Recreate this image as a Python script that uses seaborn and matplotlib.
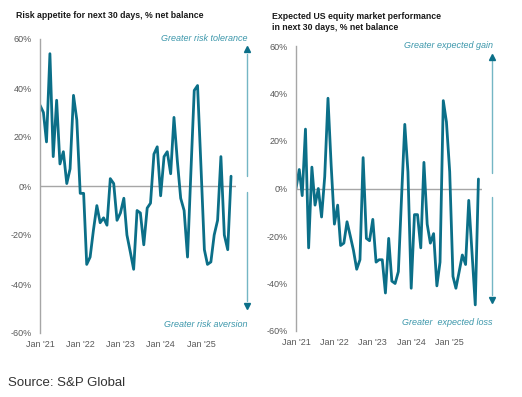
import numpy as np
import pandas as pd
import seaborn as sns
import matplotlib.pyplot as plt
import matplotlib.dates as mdates

# monthly net balance readings, Jan 2021 onwards
risk_appetite = [33, 30, 18, 54, 12, 35, 9, 14, 1, 7, 37, 27, -3, -3, -32, -29,
                 -18, -8, -15, -13, -16, 3, 1, -14, -11, -5, -20, -27, -34, -10,
                 -11, -24, -9, -7, 13, 16, -4, 12, 14, 5, 28, 10, -5, -10, -29,
                 5, 39, 41, 8, -26, -32, -31, -20, -14, 12, -20, -26, 4]
equity_outlook = [0, 8, -3, 25, -25, 9, -7, 0, -12, 5, 38, 10, -15, -7, -24, -23,
                  -14, -20, -26, -34, -30, 13, -21, -22, -13, -31, -30, -30, -44,
                  -21, -39, -40, -35, -4, 27, 7, -42, -11, -11, -25, 11, -15, -23,
                  -19, -41, -31, 37, 28, 7, -37, -42, -35, -28, -32, -5, -27, -49, 4]
months = pd.date_range("2021-01-01", periods=len(risk_appetite), freq="MS")

titles = ["Risk appetite for next 30 days, % net balance",
          "Expected US equity market performance\nin next 30 days, % net balance"]
top_notes = ["Greater risk tolerance", "Greater expected gain"]
bottom_notes = ["Greater risk aversion", "Greater  expected loss"]
y_ticks = [-60, -40, -20, 0, 20, 40, 60]

LINE = "#0b6f88"
NOTE = "#3c97ab"
ARROW = "#74b6c4"
GREY = "#595959"

sns.set_style("white")
plt.rcParams["font.family"] = ["Liberation Sans", "DejaVu Sans"]

W, H = 522, 397
fig = plt.figure(figsize=(W / 100, H / 100), dpi=100)


def px(x0, y0, x1, y1):
    return [x0 / W, 1 - y1 / H, (x1 - x0) / W, (y1 - y0) / H]


ax1 = fig.add_axes(px(40, 39, 236, 333))
ax2 = fig.add_axes(px(296, 46, 482, 331))

df = pd.DataFrame({"month": months, "risk": risk_appetite, "equity": equity_outlook})

# arrow geometry per panel: x in axes fraction, y in data units
arrows = [(1.056, 56, 4, -2.5, -49), (1.054, 55.5, 6.5, -3.5, -47)]
note_y = [(60.4, -56.5), (60.2, -56.5)]
xmax = [pd.Timestamp("2025-11-15"), pd.Timestamp("2025-11-04")]

for i, (ax, col) in enumerate([(ax1, "risk"), (ax2, "equity")]):
    sns.lineplot(data=df, x="month", y=col, ax=ax, color=LINE, linewidth=2.0)
    ax.axhline(0, color="#a6a6a6", linewidth=1, zorder=0)
    ax.set_ylim(-60, 60)
    ax.set_xlim(pd.Timestamp("2021-01-01"), xmax[i])
    ax.set_yticks(y_ticks)
    ax.set_yticklabels([f"{v}%" for v in y_ticks])
    ax.xaxis.set_major_locator(mdates.YearLocator())
    ax.xaxis.set_major_formatter(mdates.DateFormatter("%b '%y"))
    ax.set_xticks(pd.date_range("2021-01-01", "2025-01-01", freq="YS"))
    ax.tick_params(length=0, labelsize=6.5, colors=GREY)
    ax.tick_params(axis="y", pad=6)
    ax.tick_params(axis="x", pad=5)
    ax.set_xlabel("")
    ax.set_ylabel("")
    for s in ["top", "right", "bottom"]:
        ax.spines[s].set_visible(False)
    ax.spines["left"].set_color("#a6a6a6")
    ax.spines["left"].set_linewidth(1)

    tr = ax.get_yaxis_transform()
    xa, top, up_end, lo_start, bot = arrows[i]
    ax.plot([xa, xa], [up_end, top - 2], color=ARROW, lw=1, transform=tr, clip_on=False)
    ax.plot([xa, xa], [lo_start, bot + 2], color=ARROW, lw=1, transform=tr, clip_on=False)
    ax.plot([xa], [top], marker="^", ms=4.5, color=LINE, transform=tr, clip_on=False)
    ax.plot([xa], [bot], marker="v", ms=4.5, color=LINE, transform=tr, clip_on=False)

    ax.text(xa + 0.005, note_y[i][0], top_notes[i], transform=tr, ha="right", va="center",
            fontsize=6.5, style="italic", color=NOTE)
    ax.text(xa + 0.005, note_y[i][1], bottom_notes[i], transform=tr, ha="right", va="center",
            fontsize=6.5, style="italic", color=NOTE)

fig.text(16 / W, 1 - 15 / H, titles[0], fontsize=6.3, fontweight="bold", color="#1a1a1a",
         va="center", ha="left")
fig.text(272 / W, 1 - 22 / H, titles[1], fontsize=6.3, fontweight="bold", color="#1a1a1a",
         va="center", ha="left", linespacing=1.15)
fig.text(8 / W, 1 - 383 / H, "Source: S&P Global", fontsize=9.5, color="#333333",
         va="center", ha="left")

fig.savefig("out.png", dpi=100)
